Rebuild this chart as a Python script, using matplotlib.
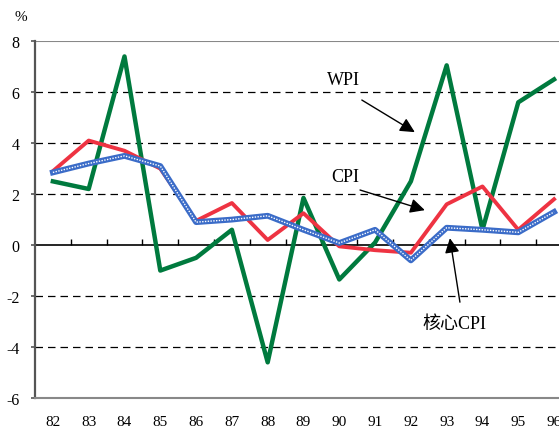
import matplotlib
matplotlib.use("Agg")
import matplotlib.pyplot as plt

years = ["82", "83", "84", "85", "86", "87", "88", "89", "90", "91", "92", "93", "94", "95", "96"]
wpi = [2.5, 2.2, 7.4, -1.0, -0.5, 0.6, -4.6, 1.85, -1.35, 0.1, 2.5, 7.05, 0.6, 5.6, 6.5]
cpi = [2.9, 4.1, 3.7, 3.0, 0.95, 1.65, 0.2, 1.25, -0.05, -0.2, -0.3, 1.6, 2.3, 0.6, 1.8]
core_cpi = [2.85, 3.2, 3.5, 3.1, 0.9, 1.0, 1.15, 0.6, 0.08, 0.6, -0.6, 0.68, 0.6, 0.5, 1.3]

serif = ["Liberation Serif", "DejaVu Serif"]
cjk = ["Liberation Serif", "Noto Sans CJK TC", "DejaVu Sans"]

fig = plt.figure(figsize=(5.59, 4.31), dpi=100)
ax = fig.add_axes([0.0626, 0.0742, 0.9606, 0.828])

x = list(range(len(years)))

for y in [6, 4, 2, -2, -4]:
    ax.axhline(y, color="black", lw=0.9, ls=(0, (6, 4)), zorder=1)
ax.axhline(8, color="#888888", lw=1.5, zorder=1)
ax.axhline(0, color="black", lw=1.2, zorder=1)
ax.vlines([i - 0.5 for i in x[1:]], 0, 0.25, color="black", lw=1.0, zorder=1)

ax.plot(x, wpi, color="#007a3e", lw=3.2, zorder=3)
ax.plot(x, cpi, color="#ee3342", lw=2.8, zorder=4)
ax.plot(x, core_cpi, color="#3b6cc8", lw=4.2, zorder=5)
ax.plot(x, core_cpi, color="white", lw=1.0, ls=(0, (1, 1)), zorder=6)

ax.set_xlim(-0.5, 14.5)
ax.set_ylim(-6, 8)
ax.set_yticks(range(-6, 9, 2))
ax.set_yticklabels([str(v) for v in range(-6, 9, 2)], fontfamily=serif, fontsize=11.5)
ax.set_xticks(x)
ax.set_xticklabels(years, fontfamily=serif, fontsize=11)
ax.tick_params(axis="x", length=0, pad=12)
ax.tick_params(axis="y", length=3, width=1.2, color="#555555", pad=8)

for s in ["top", "right"]:
    ax.spines[s].set_visible(False)
ax.spines["left"].set_color("#555555")
ax.spines["left"].set_linewidth(1.6)
ax.spines["bottom"].set_color("#888888")
ax.spines["bottom"].set_linewidth(1.5)

fig.text(0.038, 0.975, "%", fontfamily=serif, fontsize=11, va="top", ha="center")

arrow = dict(arrowstyle="-|>", mutation_scale=22, color="black", lw=1.0, shrinkA=0, shrinkB=0)
ax.text(8.13, 6.5, "WPI", fontfamily=serif, fontsize=13, ha="center", va="center")
ax.annotate("", xy=(10.11, 4.43), xytext=(8.63, 5.69), arrowprops=arrow, zorder=7)
ax.text(8.16, 2.7, "CPI", fontfamily=serif, fontsize=13, ha="center", va="center")
ax.annotate("", xy=(10.39, 1.37), xytext=(8.58, 2.16), arrowprops=arrow, zorder=7)
ax.text(11.23, -3.06, "核心CPI", fontfamily=cjk, fontsize=13, ha="center", va="center")
ax.annotate("", xy=(11.09, 0.27), xytext=(11.37, -2.24), arrowprops=arrow, zorder=7)

fig.savefig("out.png", dpi=100)
